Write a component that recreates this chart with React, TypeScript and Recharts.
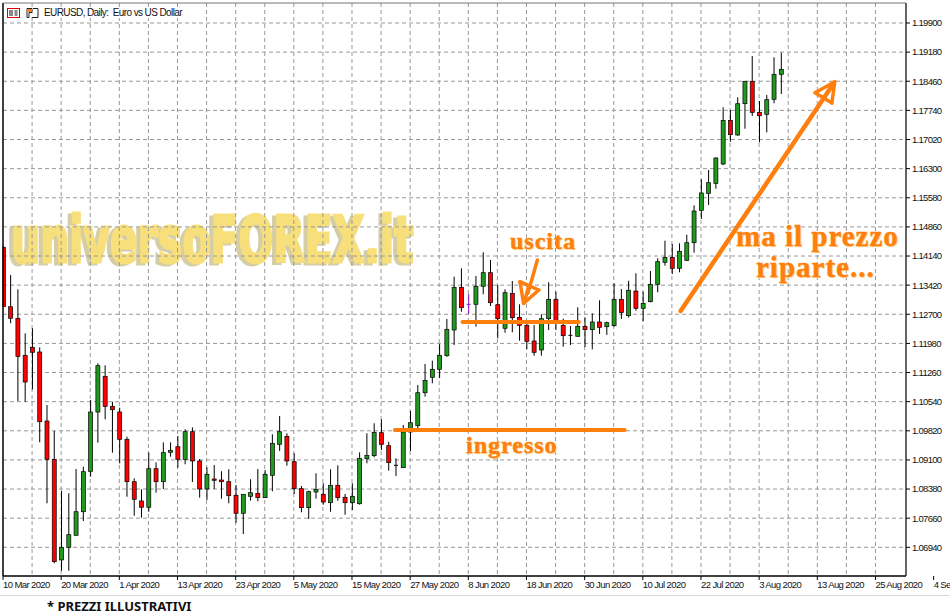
// EURUSD daily candles with trade annotations, Recharts version
import { ComposedChart, Bar, XAxis, YAxis, CartesianGrid, ReferenceLine } from "recharts";

const opens = [
  1.14356, 1.12887, 1.12601, 1.11686, 1.11884, 1.11768, 1.10062, 1.09115, 1.06627, 1.06941, 1.07237, 1.07820,
  1.08819, 1.10284, 1.11167, 1.10425, 1.10284, 1.09610, 1.08562, 1.08085, 1.07930, 1.08883, 1.08562, 1.09288,
  1.09427, 1.09115, 1.09798, 1.09074, 1.08381, 1.08629, 1.08604, 1.08562, 1.08226, 1.07781, 1.08201, 1.08275,
  1.08167, 1.08720, 1.09486, 1.09684, 1.09056, 1.08389, 1.07920, 1.08307, 1.08250, 1.08043, 1.08473, 1.08176,
  1.08043, 1.08018, 1.09130, 1.09205, 1.09773, 1.09452, 1.08967, 1.08908, 1.09790, 1.09946, 1.10761, 1.11142,
  1.11340, 1.11676, 1.12312, 1.13367, 1.12947, 1.12947, 1.13392, 1.13728, 1.12937, 1.12354, 1.13218, 1.12625,
  1.12428, 1.12040, 1.11817, 1.12591, 1.13070, 1.12428, 1.12180, 1.12156, 1.12403, 1.12319, 1.12509, 1.12393,
  1.12418, 1.13070, 1.12665, 1.13275, 1.12848, 1.13011, 1.13441, 1.13985, 1.14108, 1.13836, 1.14034, 1.14469,
  1.15270, 1.15690, 1.15937, 1.16414, 1.17494, 1.17131, 1.17905, 1.18459, 1.17692, 1.17643, 1.18014, 1.18632,
];
const highs = [
  1.14388, 1.13671, 1.13317, 1.12230, 1.12354, 1.11884, 1.10457, 1.09815, 1.08340, 1.08276, 1.08876, 1.08933,
  1.10581, 1.11488, 1.11439, 1.10539, 1.10391, 1.09674, 1.08646, 1.08374, 1.09279, 1.09041, 1.09535, 1.09535,
  1.09691, 1.09857, 1.09906, 1.09123, 1.08918, 1.08975, 1.08819, 1.08868, 1.08480, 1.08258, 1.08621, 1.08876,
  1.08851, 1.09733, 1.10186, 1.09758, 1.09264, 1.08456, 1.08340, 1.08770, 1.08522, 1.08868, 1.08967, 1.08258,
  1.08522, 1.09288, 1.09758, 1.10005, 1.10104, 1.09550, 1.09140, 1.09963, 1.10309, 1.10952, 1.11471, 1.11553,
  1.11965, 1.12583, 1.13629, 1.13836, 1.13201, 1.13646, 1.14232, 1.14042, 1.13424, 1.13317, 1.13523, 1.12947,
  1.12559, 1.12435, 1.12700, 1.13491, 1.13258, 1.12591, 1.12410, 1.12873, 1.12625, 1.12724, 1.13045, 1.12517,
  1.13466, 1.13325, 1.13528, 1.13713, 1.13258, 1.13770, 1.14084, 1.14519, 1.14437, 1.14454, 1.14667, 1.15394,
  1.16036, 1.16266, 1.16580, 1.17816, 1.17749, 1.18063, 1.18466, 1.19084, 1.17972, 1.18120, 1.19052, 1.19165,
];
const lows = [
  1.12880, 1.12477, 1.10556, 1.10539, 1.10845, 1.09535, 1.08028, 1.06545, 1.06362, 1.06362, 1.07237, 1.07590,
  1.08685, 1.09526, 1.10104, 1.09279, 1.09017, 1.08191, 1.07722, 1.07672, 1.07820, 1.08290, 1.08381, 1.09180,
  1.08908, 1.08992, 1.08554, 1.08167, 1.08110, 1.08381, 1.08142, 1.08028, 1.07549, 1.07269, 1.08092, 1.08078,
  1.08167, 1.08324, 1.09321, 1.08957, 1.08258, 1.07806, 1.07640, 1.08142, 1.07994, 1.07820, 1.08092, 1.07746,
  1.07862, 1.07994, 1.09017, 1.09165, 1.09345, 1.08834, 1.08703, 1.08908, 1.09321, 1.09889, 1.10663, 1.10994,
  1.11125, 1.11651, 1.11941, 1.12764, 1.12707, 1.12393, 1.13194, 1.12905, 1.12106, 1.12245, 1.12255, 1.12047,
  1.11842, 1.11676, 1.11676, 1.12312, 1.12312, 1.11899, 1.11941, 1.12146, 1.11891, 1.11834, 1.12213, 1.12188,
  1.12393, 1.12583, 1.12620, 1.12788, 1.12534, 1.12996, 1.13243, 1.13901, 1.13696, 1.13738, 1.14017, 1.14222,
  1.15055, 1.15401, 1.15804, 1.16390, 1.16966, 1.17114, 1.17287, 1.17601, 1.16951, 1.17198, 1.17915, 1.18145,
];
const closes = [
  1.12887, 1.12601, 1.11661, 1.11026, 1.11760, 1.10045, 1.09115, 1.06585, 1.06941, 1.07252, 1.07820, 1.08809,
  1.10284, 1.11429, 1.10425, 1.10341, 1.09610, 1.08562, 1.08127, 1.07930, 1.08883, 1.08562, 1.09279, 1.09338,
  1.09115, 1.09798, 1.09074, 1.08381, 1.08745, 1.08597, 1.08562, 1.08216, 1.07781, 1.08250, 1.08290, 1.08167,
  1.08745, 1.09511, 1.09798, 1.09074, 1.08389, 1.07920, 1.08315, 1.08374, 1.08060, 1.08473, 1.08167, 1.08043,
  1.08201, 1.09140, 1.09214, 1.09783, 1.09486, 1.09032, 1.08962, 1.09790, 1.10020, 1.10761, 1.11068, 1.11340,
  1.11686, 1.12329, 1.13367, 1.12863, 1.12942, 1.13392, 1.13728, 1.12986, 1.12591, 1.13234, 1.12615, 1.12428,
  1.12032, 1.11760, 1.12591, 1.13070, 1.12534, 1.12171, 1.12175, 1.12403, 1.12319, 1.12509, 1.12378, 1.12492,
  1.13070, 1.12744, 1.13293, 1.12848, 1.12971, 1.13441, 1.14000, 1.14108, 1.13836, 1.14257, 1.14469, 1.15253,
  1.15698, 1.15952, 1.16563, 1.17494, 1.17139, 1.17905, 1.18459, 1.17692, 1.17608, 1.18004, 1.18632, 1.18755,
];

const priceTicks = [
  1.199, 1.1918, 1.1846, 1.1774, 1.1702, 1.163, 1.1558, 1.1486, 1.1414, 1.1342,
  1.127, 1.1198, 1.1126, 1.1054, 1.0982, 1.091, 1.0838, 1.0766, 1.0694,
];
const dateTicks = [0, 8, 16, 24, 32, 40, 48, 56, 64, 72, 80, 88, 96, 104, 112, 120, 128];
const dateLabels = [
  "10 Mar 2020", "20 Mar 2020", "1 Apr 2020", "13 Apr 2020", "23 Apr 2020", "5 May 2020",
  "15 May 2020", "27 May 2020", "8 Jun 2020", "18 Jun 2020", "30 Jun 2020", "10 Jul 2020",
  "22 Jul 2020", "3 Aug 2020", "13 Aug 2020", "25 Aug 2020", "4 Sep 2020",
];
const gridBars = [4, 8, 12, 16, 20, 24, 28, 32, 36, 40, 44, 48, 52, 56, 60, 64, 68, 72, 76, 80, 84, 88, 92, 96, 100, 104, 108, 112, 116, 120];

// hand drawn lines on the chart: [bar, price, bar, price]
const annotationLines = [
  [53.9, 1.0984, 85.5, 1.0984],
  [63.2, 1.12509, 79.2, 1.12509],
  [93.2, 1.12781, 114.1, 1.18367],
  [114.4, 1.18449, 111.7, 1.18177],
  [111.7, 1.18177, 114.0, 1.17922],
  [114.0, 1.17922, 114.4, 1.18449],
  [73.5, 1.14042, 72.2, 1.13226],
  [71.1, 1.13505, 73.7, 1.133],
  [73.7, 1.133, 71.6, 1.12971],
  [71.6, 1.12971, 71.1, 1.13505],
  [72.3, 1.134, 71.8, 1.1305],
];

const candles = opens.map((open, i) => ({
  bar: i,
  open,
  close: closes[i],
  range: [lows[i], highs[i]],
  high: highs[i],
}));

const ORANGE = "#ff7f0e";
const PLOT_LEFT = 3;

const Candle = (props: any) => {
  const { x, y, width, height, payload } = props;
  const { open, close, high, range, bar } = payload;
  const perPrice = height / (high - range[0]);
  const cx = x + width / 2;
  const yOpen = y + (high - open) * perPrice;
  const yClose = y + (high - close) * perPrice;
  const top = Math.min(yOpen, yClose);
  const bodyH = Math.abs(yOpen - yClose);
  const isDoji = bodyH < 1;
  const left = Math.max(x, PLOT_LEFT);
  const wick = bar === 64 ? "#8a10c8" : "#000";
  return (
    <g>
      {cx > PLOT_LEFT && <line x1={cx} x2={cx} y1={y} y2={y + height} stroke={wick} strokeWidth={1} />}
      {isDoji ? (
        <line x1={x} x2={x + width} y1={top} y2={top} stroke={wick} strokeWidth={1} />
      ) : (
        <rect
          x={left}
          y={top}
          width={x + width - left}
          height={bodyH}
          fill={close > open ? "#1f9a1f" : "#ff0000"}
          stroke="#000"
          strokeWidth={0.7}
        />
      )}
    </g>
  );
};

const DateTick = ({ x, y, payload }: any) => {
  const label = dateLabels[dateTicks.indexOf(payload.value)];
  return (
    <g>
      <line x1={x} x2={x} y1={y - 8} y2={y - 4} stroke="#000" />
      <text x={x} y={y + 4} fontSize={9.5} letterSpacing={-0.6} fill="#111" fontFamily="Liberation Sans">
        {label}
      </text>
    </g>
  );
};

const noteStyle = (left: number, top: number, size: number): any => ({
  position: "absolute",
  left,
  top,
  color: ORANGE,
  fontFamily: "Liberation Serif",
  fontWeight: 700,
  fontSize: size,
  letterSpacing: 1,
  whiteSpace: "nowrap",
  lineHeight: 1,
  WebkitTextStroke: "0.4px #ff7f0e",
  textShadow: "1px 1px 1px #f6d58c",
});

export default function App() {
  return (
    <div style={{ position: "absolute", left: 0, top: 0, width: 950, height: 615, background: "#fff", overflow: "hidden" }}>
      {/* watermark sits under the chart so the grid runs over it */}
      <svg width={430} height={70} style={{ position: "absolute", left: 0, top: 205, filter: "drop-shadow(-4px 2px 0 #d4cda6)" }}>
        <text transform="translate(11,57) scale(0.64,1)" fontFamily="DejaVu Sans" fontWeight={700} fontSize={64}
          fill="#f7df7b" stroke="#f7df7b" strokeWidth={3}>
          universoFOREX.it
        </text>
      </svg>

      <div style={{ position: "absolute", left: 0, top: 0 }}>
        <ComposedChart
          width={950}
          height={595}
          data={candles}
          margin={{ top: 3, right: 0, bottom: 0, left: PLOT_LEFT }}
        >
          <CartesianGrid
            stroke="#999"
            strokeDasharray="4 3"
            verticalValues={gridBars}
            horizontalValues={priceTicks}
          />
          <XAxis
            dataKey="bar"
            type="number"
            domain={[0, 124.2]}
            ticks={dateTicks}
            interval={0}
            height={19}
            tick={<DateTick />}
            tickLine={false}
            axisLine={{ stroke: "#000", strokeWidth: 1.5 }}
          />
          <YAxis
            orientation="right"
            type="number"
            domain={[1.06231, 1.20394]}
            ticks={priceTicks}
            interval={0}
            width={44}
            tickSize={4}
            tickMargin={2}
            tick={{ fontSize: 9.5, fill: "#111", fontFamily: "Liberation Sans", letterSpacing: -0.7 }}
            tickFormatter={(v: number) => v.toFixed(5)}
            tickLine={{ stroke: "#000" }}
            axisLine={{ stroke: "#333", strokeWidth: 1.5 }}
          />
          <ReferenceLine x={0} stroke="#000" strokeWidth={1.5} />
          <ReferenceLine y={1.20394} stroke="#777" strokeWidth={1} />
          <Bar dataKey="range" barSize={4} shape={<Candle />} isAnimationActive={false} />
          {annotationLines.map(([x1, y1, x2, y2], i) => (
            <ReferenceLine
              key={i}
              segment={[{ x: x1, y: y1 }, { x: x2, y: y2 }]}
              stroke={ORANGE}
              strokeWidth={i < 2 ? 4 : i === 2 ? 4.5 : 3.5}
              strokeLinecap="round"
            />
          ))}
        </ComposedChart>
      </div>

      {/* window header */}
      <svg width={40} height={14} style={{ position: "absolute", left: 6, top: 7 }}>
        <rect x={1.5} y={1.5} width={12} height={9} fill="#fff" stroke="#e00000" />
        <path d="M3 4h4M3 6h4M3 8h4M8.5 4h3M8.5 6h3M8.5 8h3" stroke="#111" />
        <path d="M21 1.5h5v4h-3v5h-2zM27 1.5h5v9h-6" fill="#fff" stroke="#222" />
        <rect x={21} y={2} width={4} height={3} fill="#f28c1e" />
      </svg>
      <div style={{ position: "absolute", left: 44, top: 7, fontFamily: "Liberation Sans", fontSize: 10, letterSpacing: -0.6, color: "#111", whiteSpace: "pre", background: "#fff" }}>
        {"EURUSD, Daily:  Euro vs US Dollar"}
      </div>

      <div style={noteStyle(510, 229, 24)}>uscita</div>
      <div style={noteStyle(466, 433, 24)}>ingresso</div>
      <div style={noteStyle(736, 222, 29)}>ma il prezzo</div>
      <div style={noteStyle(756, 253, 29)}>riparte...</div>

      <div style={{ position: "absolute", left: 0, top: 595, width: 950, height: 1, background: "#d9d9d9" }} />
      <div style={{ position: "absolute", left: 47, top: 597, fontFamily: "Noto Sans", fontWeight: 700, fontSize: 13, color: "#111", whiteSpace: "nowrap" }}>
        * PREZZI ILLUSTRATIVI
      </div>
    </div>
  );
}
